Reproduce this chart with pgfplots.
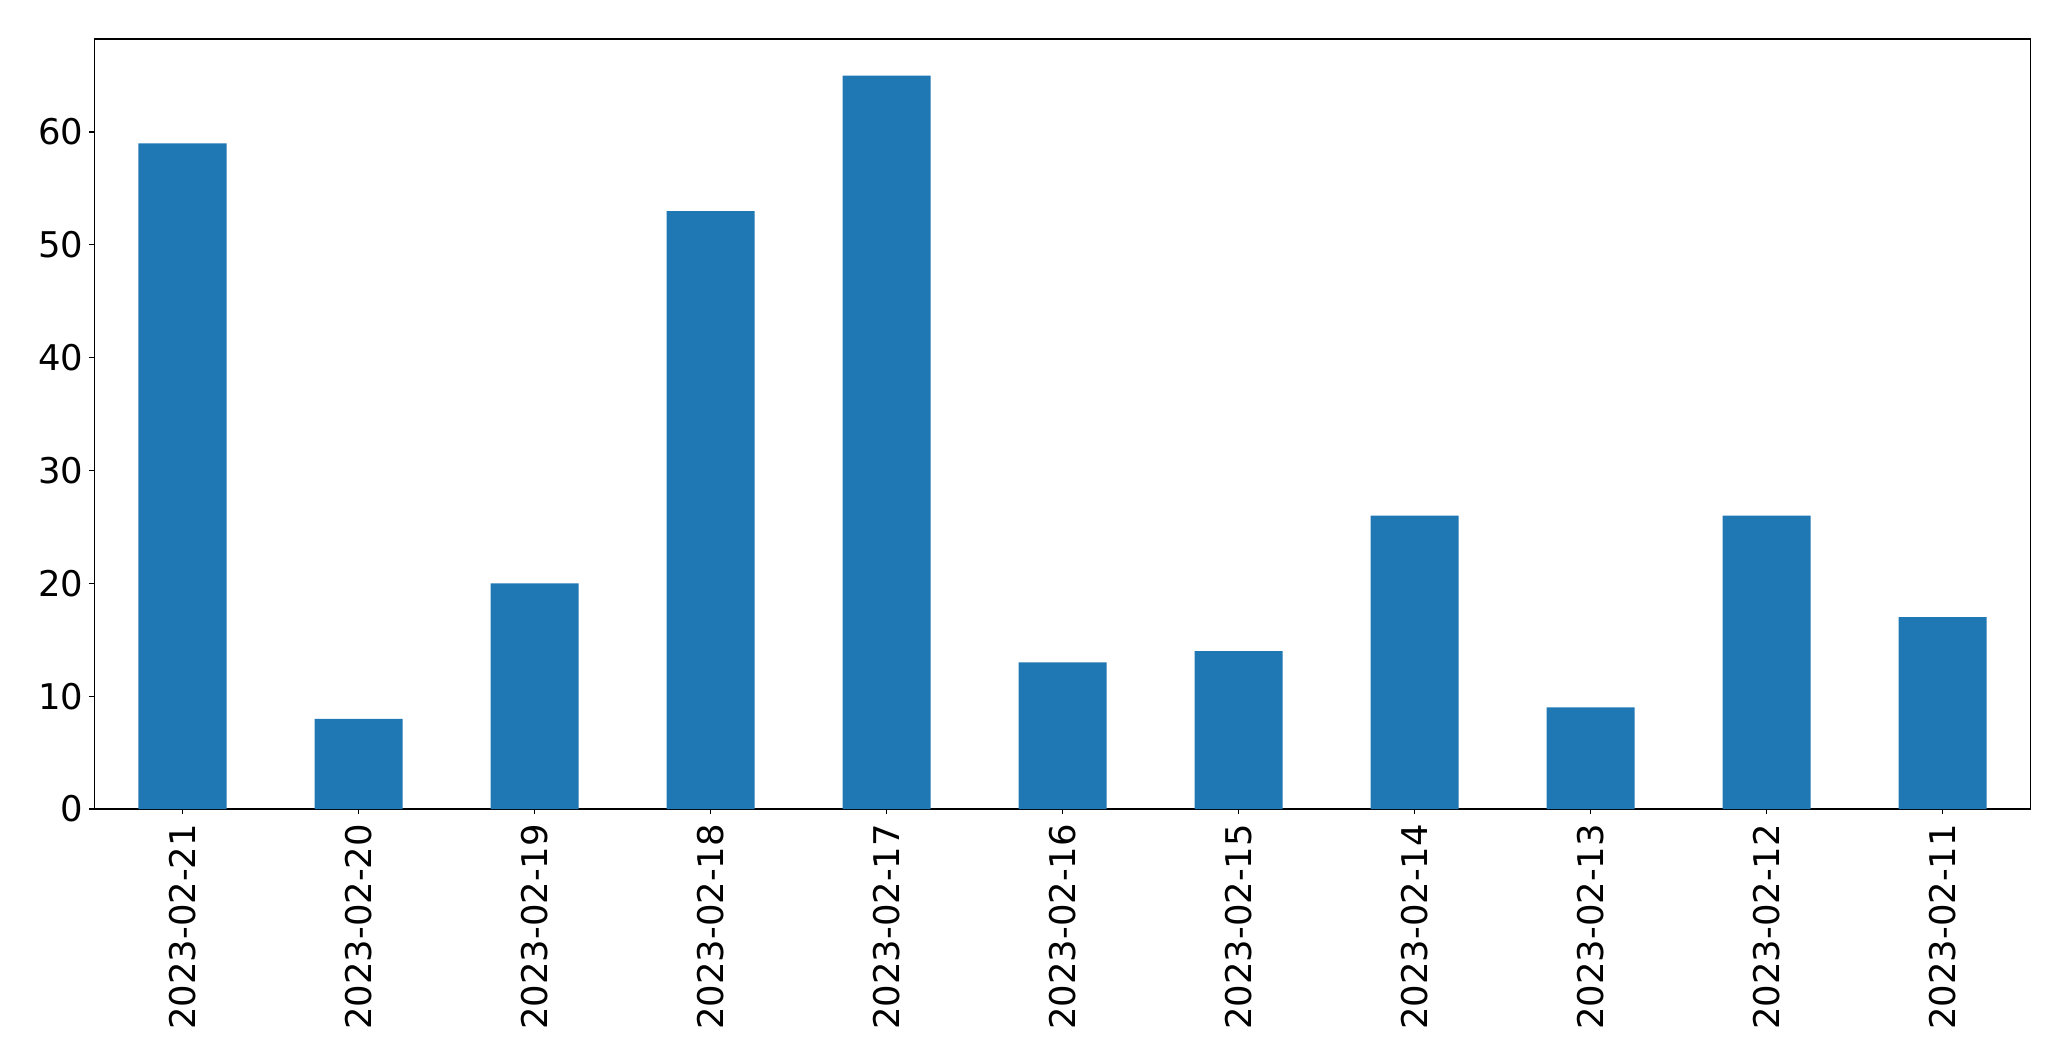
\documentclass[border=0pt]{standalone}
\usepackage{pgfplots}
\pgfplotsset{compat=1.18}
\usepackage{fontspec}
\setmainfont{DejaVu Sans}
\definecolor{tabblue}{HTML}{1F77B4}
\begin{document}
\begin{tikzpicture}
\begin{axis}[
  at={(0,0)}, anchor=south west,
  scale only axis,
  width=968pt, height=385pt,
  xmin=-0.5, xmax=10.5,
  ymin=0, ymax=68.25,
  ytick={0,10,20,30,40,50,60},
  xtick={0,...,10},
  xticklabels={2023-02-21,2023-02-20,2023-02-19,2023-02-18,2023-02-17,2023-02-16,2023-02-15,2023-02-14,2023-02-13,2023-02-12,2023-02-11},
  x tick label style={rotate=90, anchor=east},
  tick align=outside,
  xtick pos=bottom, ytick pos=left,
  major tick length=2.5pt,
  tick style={black, line width=0.6pt},
  axis line style={line width=0.65pt},
  ticklabel style={font=\fontsize{17.7pt}{21pt}\selectfont},
  /pgf/number format/assume math mode=true,
  xticklabel shift=1.5pt, yticklabel shift=-0.5pt,
]
\addplot[ybar, bar width=0.5, bar shift=0pt, fill=tabblue, draw=none] coordinates {
(0,59) (1,8) (2,20) (3,53) (4,65) (5,13) (6,14) (7,26) (8,9) (9,26) (10,17)
};
\end{axis}
\pgfresetboundingbox
\path (-47.25pt,-126pt) rectangle (988.25pt,404.5pt);
\end{tikzpicture}
\end{document}
